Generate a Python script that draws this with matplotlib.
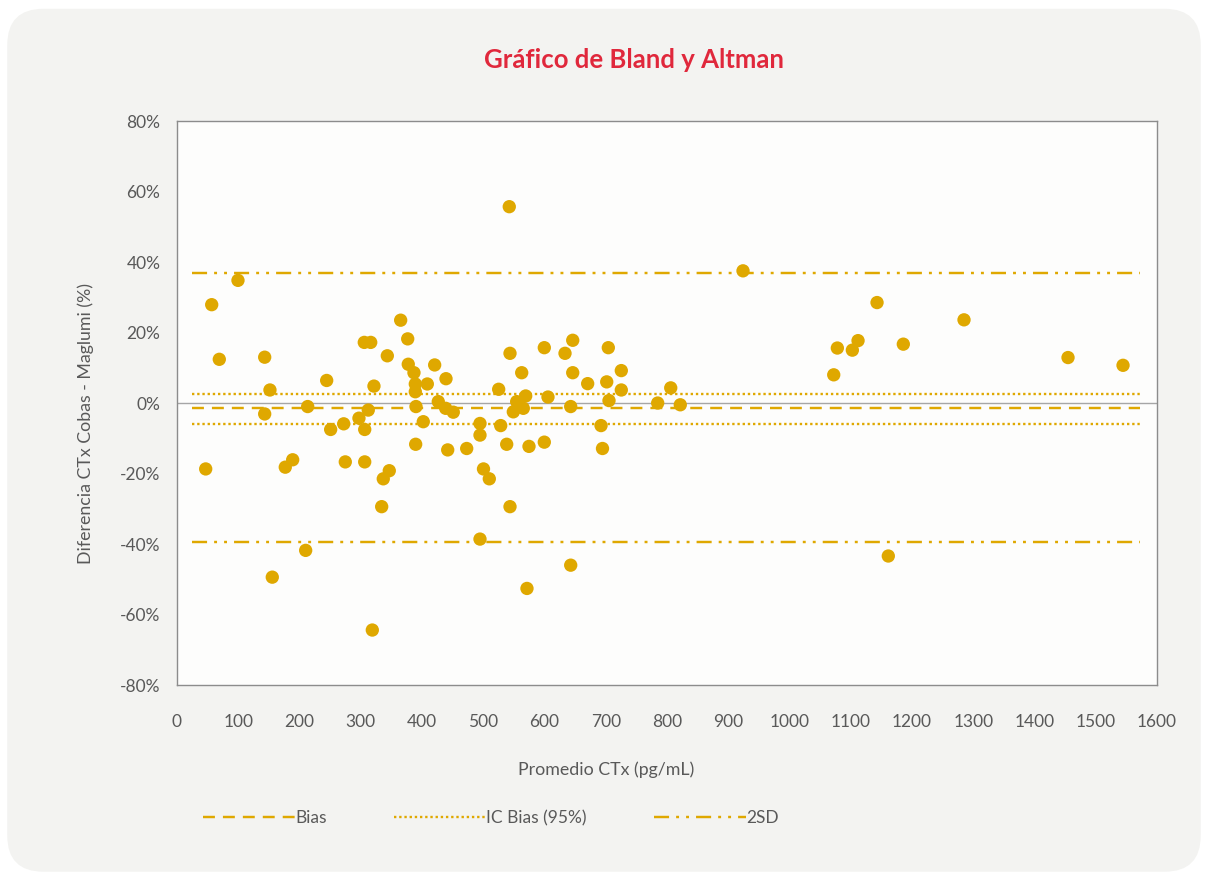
import matplotlib.pyplot as plt
from matplotlib.patches import FancyBboxPatch
from matplotlib.lines import Line2D
from matplotlib.ticker import FuncFormatter

plt.rcParams['font.family'] = ['Lato', 'DejaVu Sans']

# promedio CTx (pg/mL) y diferencia (%)
promedio = [46.9, 56.7, 69.1, 99.6, 143.2, 143.2, 151.8, 155.6, 176.8, 188.9,
            213.4, 210.1, 244.4, 250.9, 272.2, 274.8, 297.1, 305.8, 316.3, 306.5,
            306.5, 312.3, 321.6, 318.9, 334.2, 336.8, 343.4, 346.6, 365.2, 376.7,
            377.6, 386.9, 389.1, 389.1, 390.2, 389.7, 402.1, 408.7, 420.7, 426.6,
            438.7, 439.2, 442.0, 451.1, 473.0, 494.7, 494.7, 494.7, 500.4, 509.9,
            525.2, 528.5, 538.3, 542.5, 543.7, 543.7, 549.1, 554.6, 562.8, 565.4,
            569.3, 574.7, 571.4, 599.7, 599.7, 605.7, 633.5, 642.8, 646.1, 646.1,
            642.8, 670.5, 692.3, 694.7, 701.6, 704.2, 705.3, 725.4, 725.4, 784.8,
            806.1, 821.7, 924.1, 1072.2, 1078.1, 1102.6, 1111.9, 1142.9, 1161.3, 1185.8,
            1284.9, 1454.7, 1544.5]
diferencia = [-18.7, 27.9, 12.4, 34.8, 13.0, -3.1, 3.7, -49.4, -18.2, -16.1,
              -1.0, -41.8, 6.4, -7.5, -5.9, -16.7, -4.3, 17.2, 17.2, -7.5,
              -16.7, -2.0, 4.8, -64.4, -29.4, -21.5, 13.4, -19.2, 23.5, 18.2,
              11.0, 8.6, 5.4, 3.2, -1.0, -11.7, -5.3, 5.4, 10.8, 0.4,
              -1.5, 6.9, -13.3, -2.6, -12.9, -38.6, -5.8, -9.1, -18.7, -21.5,
              3.9, -6.4, -11.7, 55.7, 14.1, -29.4, -2.5, 0.4, 8.6, -1.5,
              2.0, -12.3, -52.6, 15.7, -11.1, 1.7, 14.1, -1.0, 17.8, 8.6,
              -46.0, 5.5, -6.4, -12.9, 6.0, 15.7, 0.7, 9.2, 3.7, 0.0,
              4.3, -0.5, 37.5, 8.0, 15.6, 15.0, 17.7, 28.5, -43.4, 16.7,
              23.6, 12.9, 10.7]

bias = -1.4
ic_sup, ic_inf = 2.5, -6.0
sd_sup, sd_inf = 36.8, -39.5
linea_x = [25, 1572]

oro = '#DFA800'
gris = '#595959'

fig = plt.figure(figsize=(12.08, 8.77), dpi=100)
fig.patch.set_facecolor('white')
fondo = FancyBboxPatch((0.006, 0.006), 0.988, 0.984,
                       boxstyle='round,pad=0,rounding_size=0.03',
                       transform=fig.transFigure, facecolor='#F3F3F1',
                       edgecolor='none', mutation_aspect=1208 / 877, zorder=-10)
fig.patches.append(fondo)

ax = fig.add_axes([0.1465, 0.2189, 0.8113, 0.6431])
ax.set_facecolor('#FDFDFC')

ax.axhline(0, color='#A6A6A6', lw=1, zorder=1)
ax.plot(linea_x, [bias, bias], color=oro, lw=1.75, ls=(0, (4.9, 3.3)), zorder=2)
ax.plot(linea_x, [ic_sup, ic_sup], color=oro, lw=1.7, ls=(0, (1, 1.2)), zorder=2)
ax.plot(linea_x, [ic_inf, ic_inf], color=oro, lw=1.7, ls=(0, (1, 1.2)), zorder=2)
dashdot = (0, (6.2, 2.9, 1.2, 2.9, 1.2, 2.9))
ax.plot(linea_x, [sd_sup, sd_sup], color=oro, lw=1.75, ls=dashdot, zorder=2)
ax.plot(linea_x, [sd_inf, sd_inf], color=oro, lw=1.75, ls=dashdot, zorder=2)

ax.scatter(promedio, diferencia, s=92, color=oro, edgecolors='none', zorder=3)

ax.set_xlim(0, 1600)
ax.set_ylim(-80, 80)
ax.set_xticks(range(0, 1700, 100))
ax.set_yticks(range(-80, 100, 20))
ax.yaxis.set_major_formatter(FuncFormatter(lambda v, p: f'{v:.0f}%'))
ax.tick_params(length=0, labelsize=12.5, colors=gris)
ax.tick_params(axis='x', pad=21)
ax.tick_params(axis='y', pad=12)
for s in ax.spines.values():
    s.set_color('#8C8C8C')
    s.set_linewidth(1)

fig.text(0.525, 0.932, 'Gráfico de Bland y Altman', ha='center', va='center',
         fontsize=18.5, fontweight='bold', color='#E0283C')
fig.text(0.502, 0.122, 'Promedio CTx (pg/mL)', ha='center', va='center',
         fontsize=12.8, color=gris)
fig.text(0.071, 0.517, 'Diferencia CTx Cobas - Maglumi (%)', ha='center',
         va='center', rotation=90, fontsize=12.8, color=gris)

handles = [Line2D([], [], color=oro, lw=1.75, ls=(0, (4.9, 3.3))),
           Line2D([], [], color=oro, lw=1.7, ls=(0, (1, 1.2))),
           Line2D([], [], color=oro, lw=1.75, ls=dashdot)]
fig.legend(handles, ['Bias', 'IC Bias (95%)', '2SD'], ncol=3, frameon=False,
           loc='center left', bbox_to_anchor=(0.155, 0.067), handlelength=5.3,
           handletextpad=0, columnspacing=3.9, prop={'size': 12.5},
           labelcolor=gris)

fig.savefig('out.png', dpi=100)
